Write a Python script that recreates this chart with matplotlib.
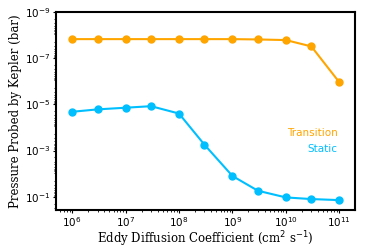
import matplotlib
matplotlib.use("Agg")
import matplotlib.pyplot as plt

kzz = [1e6, 3e6, 1e7, 3e7, 1e8, 3e8, 1e9, 3e9, 1e10, 3e10, 1e11]
p_transition = [1.5e-8, 1.5e-8, 1.5e-8, 1.5e-8, 1.5e-8, 1.5e-8, 1.5e-8, 1.55e-8, 1.65e-8, 3.1e-8, 1.1e-6]
p_static = [2.1e-5, 1.65e-5, 1.4e-5, 1.2e-5, 2.5e-5, 5.6e-4, 1.26e-2, 5.5e-2, 0.107, 0.126, 0.14]

orange = "#FFA500"
blue = "#00BFFF"

fig = plt.figure(figsize=(3.74, 2.49), dpi=100)
ax = fig.add_axes([0.15, 0.157, 0.80, 0.795])

ax.plot(kzz, p_transition, "-o", color=orange, ms=5, lw=1.5)
ax.plot(kzz, p_static, "-o", color=blue, ms=5, lw=1.5)

ax.set_xscale("log")
ax.set_yscale("log")
ax.set_xlim(10**5.7, 10**11.3)
ax.set_ylim(10**-0.43, 1e-9)
ax.set_yticks([1e-9, 1e-7, 1e-5, 1e-3, 1e-1])
ax.tick_params(labelsize=7.5, length=2.5, pad=1.5)
ax.tick_params(which="minor", length=1.5)

ax.set_xlabel(r"Eddy Diffusion Coefficient (cm$^2$ s$^{-1}$)", family="DejaVu Serif",
              fontsize=8.5, labelpad=0)
ax.set_ylabel("Pressure Probed by Kepler (bar)", family="DejaVu Serif", fontsize=8.5, labelpad=2)

ax.text(0.94, 0.39, "Transition", color=orange, fontsize=7.5, ha="right", va="center",
        transform=ax.transAxes)
ax.text(0.94, 0.31, "Static", color=blue, fontsize=7.5, ha="right", va="center",
        transform=ax.transAxes)

for s in ax.spines.values():
    s.set_linewidth(1.5)

fig.savefig("out.png", dpi=100)
